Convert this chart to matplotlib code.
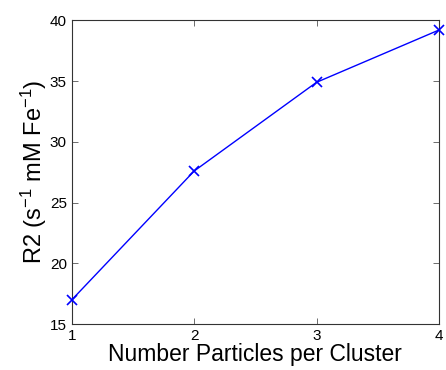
import matplotlib
matplotlib.use("Agg")
import matplotlib.pyplot as plt

particles = [1, 2, 3, 4]
r2 = [17.0, 27.6, 34.9, 39.2]
xticks = [1, 2, 3, 4]
yticks = [15, 20, 25, 30, 35, 40]

plt.rcParams['font.family'] = ['Liberation Sans', 'DejaVu Sans']
plt.rcParams['mathtext.fontset'] = 'custom'
plt.rcParams['mathtext.rm'] = 'Liberation Sans'
plt.rcParams['mathtext.it'] = 'Liberation Sans:italic'

fig = plt.figure(figsize=(4.46, 3.70), dpi=100)
ax = fig.add_axes([0.161, 0.124, 0.823, 0.821])
ax.plot(particles, r2, color='#0000ff', marker='x', markersize=6.5, linewidth=1.0,
        markeredgewidth=1.2, clip_on=False, zorder=3)
ax.set_xlim(1, 4)
ax.set_ylim(15, 40)
ax.set_xticks(xticks)
ax.set_yticks(yticks)
ax.tick_params(direction='in', top=True, right=True, labelsize=11, length=4, width=0.6, color='#555555')
for s in ax.spines.values():
    s.set_linewidth(0.8)
    s.set_color('#333333')
ax.set_xlabel('Number Particles per Cluster', fontsize=16.5, labelpad=0)
ax.set_ylabel(r'R2 (s$\mathregular{^{-1}}$ mM Fe$\mathregular{^{-1}}$)', fontsize=17, labelpad=1)
fig.savefig('out.png', dpi=100)
